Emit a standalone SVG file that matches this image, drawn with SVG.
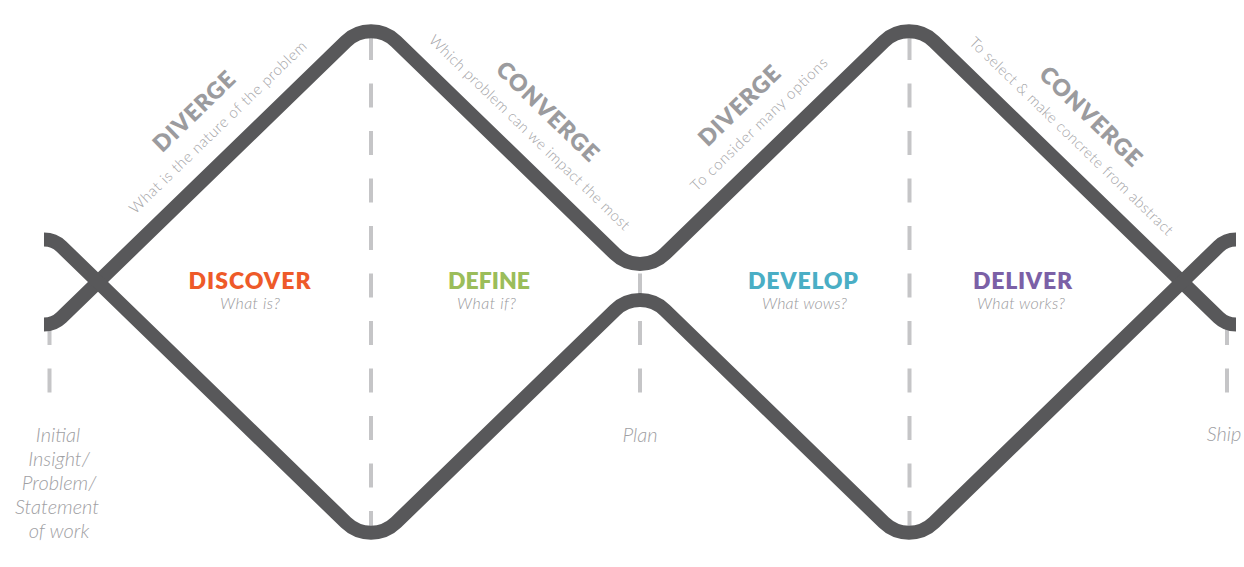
<svg xmlns="http://www.w3.org/2000/svg" width="1244" height="567" viewBox="0 0 1244 567">
<style>
.track{fill:none;stroke:#58585a;stroke-width:14;stroke-linecap:butt;stroke-linejoin:round}
.guide{fill:none;stroke:#c5c5c7;stroke-width:4;stroke-dasharray:24 23.5}
.phase{font-family:Lato,"Liberation Sans",sans-serif;font-weight:800;font-size:23px;text-anchor:middle}
.q{font-family:Lato,"Liberation Sans",sans-serif;font-weight:300;font-style:italic;font-size:16px;fill:#9a9a9d;text-anchor:middle}
.mode{font-family:Lato,"Liberation Sans",sans-serif;font-weight:800;font-size:23px;fill:#9b9b9e;text-anchor:middle}
.modesub{font-family:Lato,"Liberation Sans",sans-serif;font-weight:300;font-size:15px;fill:#a3a3a6;text-anchor:middle}
.ms{font-family:Lato,"Liberation Sans",sans-serif;font-weight:300;font-style:italic;font-size:20px;fill:#a0a0a3;text-anchor:middle}
</style>
<rect width="1244" height="567" fill="#ffffff"/>
<g id="guides">
<line class="guide" x1="49.5" y1="321" x2="49.5" y2="393"/>
<line class="guide" x1="371" y1="36" x2="371" y2="535"/>
<line class="guide" x1="640" y1="273.5" x2="640" y2="393"/>
<line class="guide" x1="909.5" y1="36" x2="909.5" y2="535"/>
<line class="guide" x1="1227" y1="321" x2="1227" y2="393"/>
</g>
<g id="connectors">
<path id="upper-track" class="track" d="M44 324.55 A25 25 0 0 0 61.4 317.5 L345.94 41.51 A36 36 0 0 1 396.06 41.51 L614.94 253.79 A36 36 0 0 0 665.06 253.79 L883.94 41.51 A36 36 0 0 1 934.06 41.51 L1218.6 317.5 A25 25 0 0 0 1236 324.55"/>
<path id="lower-track" class="track" d="M44 239.45 A25 25 0 0 1 61.4 246.5 L345.94 522.49 A36 36 0 0 0 396.06 522.49 L614.94 310.21 A36 36 0 0 1 665.06 310.21 L883.94 522.49 A36 36 0 0 0 934.06 522.49 L1218.6 246.5 A25 25 0 0 1 1236 239.45"/>
</g>
<g id="discover">
<text class="phase" x="249.5" y="289" fill="#ee5a29" textLength="122" lengthAdjust="spacing">DISCOVER</text>
<text class="q" x="250" y="309" textLength="60" lengthAdjust="spacing">What is?</text>
</g>
<g id="define">
<text class="phase" x="489" y="289" fill="#9bbd5a" textLength="82" lengthAdjust="spacing">DEFINE</text>
<text class="q" x="486.5" y="309" textLength="59" lengthAdjust="spacing">What if?</text>
</g>
<g id="develop">
<text class="phase" x="803" y="289" fill="#4aaec5" textLength="110" lengthAdjust="spacing">DEVELOP</text>
<text class="q" x="804.5" y="309" textLength="85" lengthAdjust="spacing">What wows?</text>
</g>
<g id="deliver">
<text class="phase" x="1022.5" y="289" fill="#7b60a6" textLength="99" lengthAdjust="spacing">DELIVER</text>
<text class="q" x="1021" y="309" textLength="88" lengthAdjust="spacing">What works?</text>
</g>
<g id="diverge-1">
<text class="mode" transform="translate(199.7 117.3) rotate(-44.1)" textLength="104" lengthAdjust="spacing">DIVERGE</text>
<text class="modesub" transform="translate(221.5 130.9) rotate(-44.1)" textLength="240" lengthAdjust="spacing">What is the nature of the problem</text>
</g>
<g id="converge-1">
<text class="mode" transform="translate(542 117) rotate(44.1)" textLength="132" lengthAdjust="spacing">CONVERGE</text>
<text class="modesub" transform="translate(526 136.2) rotate(44.1)" textLength="273" lengthAdjust="spacing">Which problem can we impact the most</text>
</g>
<g id="diverge-2">
<text class="mode" transform="translate(745 111.5) rotate(-44.1)" textLength="104" lengthAdjust="spacing">DIVERGE</text>
<text class="modesub" transform="translate(762.6 127.9) rotate(-44.1)" textLength="184" lengthAdjust="spacing">To consider many options</text>
</g>
<g id="converge-2">
<text class="mode" transform="translate(1085.1 122) rotate(44.1)" textLength="132" lengthAdjust="spacing">CONVERGE</text>
<text class="modesub" transform="translate(1067.8 139.9) rotate(44.1)" textLength="277" lengthAdjust="spacing">To select &amp; make concrete from abstract</text>
</g>
<g id="milestone-start">
<text class="ms"><tspan x="58" y="441.5">Initial</tspan><tspan x="59" y="465.5">Insight/</tspan><tspan x="59" y="489.5">Problem/</tspan><tspan x="57" y="513.5">Statement</tspan><tspan x="59" y="537.5">of work</tspan></text>
</g>
<g id="milestone-plan">
<text class="ms" x="640" y="441.5">Plan</text>
</g>
<g id="milestone-ship">
<text class="ms" x="1224" y="441">Ship</text>
</g>
</svg>
